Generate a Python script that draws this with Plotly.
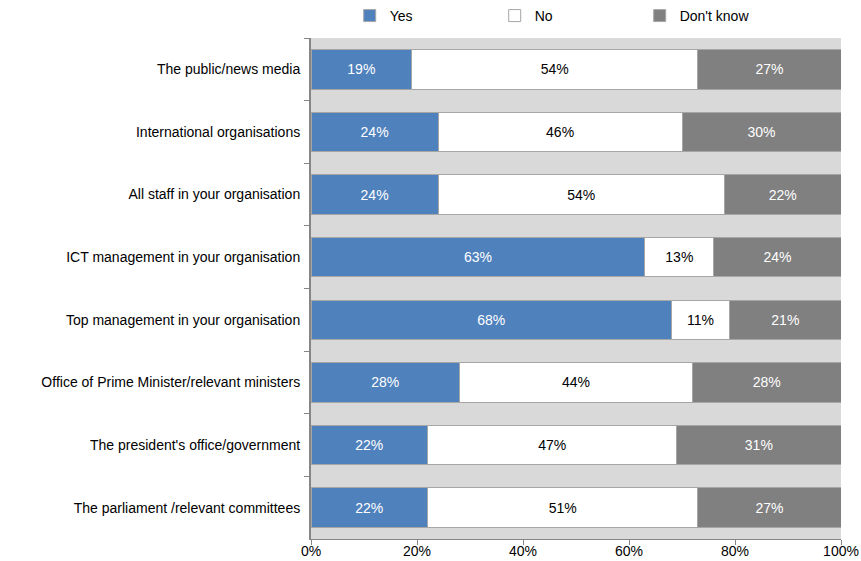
import plotly.graph_objects as go

categories = [
    "The public/news media",
    "International organisations",
    "All staff in your organisation",
    "ICT management in your organisation",
    "Top management in your organisation",
    "Office of Prime Minister/relevant ministers",
    "The president's office/government",
    "The parliament /relevant committees",
]
yes_vals = [19, 24, 24, 63, 68, 28, 22, 22]
no_vals = [54, 46, 54, 13, 11, 44, 47, 51]
dk_vals = [27, 30, 22, 24, 21, 28, 31, 27]
x_ticks = [0, 20, 40, 60, 80, 100]
x_ticklabels = ["0%", "20%", "40%", "60%", "80%", "100%"]

font_family = "Liberation Sans, Arial, sans-serif"
border = dict(color="#a6a6a6", width=1)

fig = go.Figure()
series = [
    ("Yes", yes_vals, "#4f81bd", "white"),
    ("No", no_vals, "#ffffff", "black"),
    ("Don't know", dk_vals, "#808080", "white"),
]
for name, vals, color, tcolor in series:
    fig.add_trace(go.Bar(
        name=name, y=categories, x=vals, orientation="h",
        marker=dict(color=color, line=border),
        text=[f"{v}%" for v in vals], textposition="inside",
        insidetextanchor="middle",
        textfont=dict(color=tcolor, size=14, family=font_family),
        hoverinfo="skip",
    ))

fig.update_layout(
    barmode="stack",
    bargap=0.37,
    width=861, height=561,
    margin=dict(l=311, r=20, t=38, b=22, autoexpand=False),
    paper_bgcolor="white",
    plot_bgcolor="#d9d9d9",
    font=dict(family=font_family, size=14, color="black"),
    uniformtext=dict(mode="show", minsize=14),
    showlegend=True,
    legend=dict(
        orientation="h", x=0.073, xanchor="left", y=1.012, yanchor="bottom",
        entrywidth=100, entrywidthmode="pixels",
        font=dict(size=14, family=font_family),
        traceorder="normal",
        bgcolor="rgba(0,0,0,0)",
    ),
    xaxis=dict(
        range=[0, 100], tickvals=x_ticks, ticktext=x_ticklabels,
        showgrid=False, zeroline=False,
        showline=True, linecolor="#868686", linewidth=1,
        ticks="outside", ticklen=5, tickcolor="#868686",
        tickfont=dict(size=14), automargin=False,
        ticklabelstandoff=-6,
    ),
    yaxis=dict(
        categoryorder="array", categoryarray=categories,
        autorange="reversed",
        showgrid=False, zeroline=False,
        showline=True, linecolor="#868686", linewidth=2,
        ticks="outside", ticklen=5, tickcolor="#868686",
        tickson="boundaries",
        tickfont=dict(size=14), automargin=False,
        ticklabelstandoff=6,
    ),
)

fig.write_html(
    "out.html",
    config={"displayModeBar": False},
    post_script="document.body.style.margin='0';document.body.style.padding='0';",
)
